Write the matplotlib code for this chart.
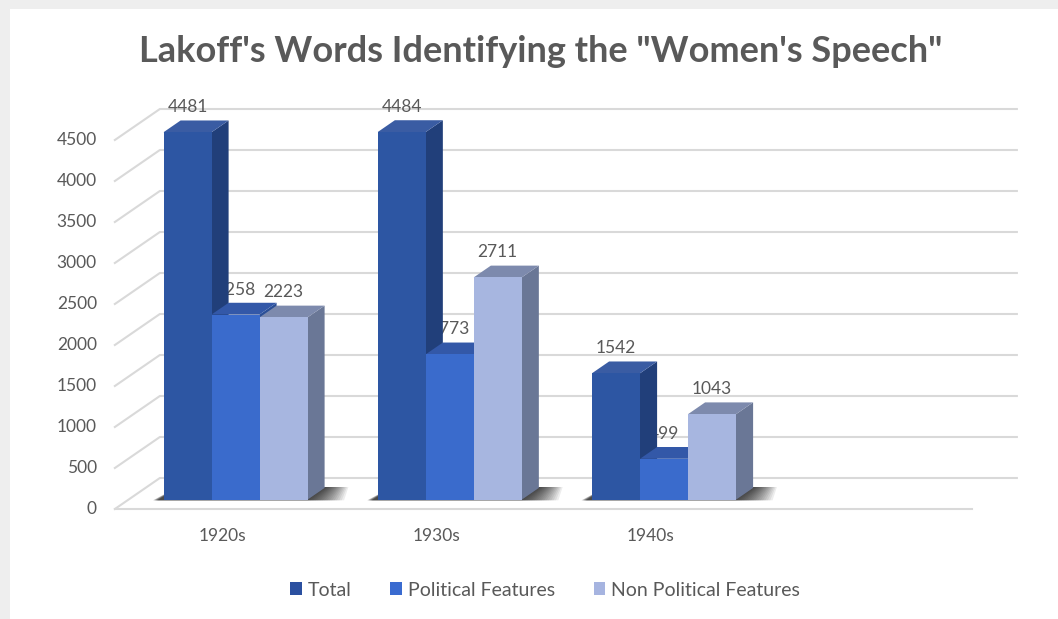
import matplotlib
matplotlib.use('Agg')
import matplotlib.pyplot as plt
from matplotlib.patches import Polygon, Rectangle, Patch

# data
decades = ['1920s', '1930s', '1940s']
series = ['Total', 'Political Features', 'Non Political Features']
total = [4481, 4484, 1542]
political = [2258, 1773, 499]
non_political = [2223, 2711, 1043]
y_ticks = list(range(0, 5000, 500))

front_colors = ['#2d56a3', '#3a6bcc', '#a7b6e0']
top_colors = ['#3a5ca3', '#3358a8', '#7d8aad']
side_colors = ['#213f7a', '#2b4f96', '#6a7796']
legend_colors = ['#2b50a0', '#3a6bd0', '#a6b4e0']
text_color = '#595959'
grid_color = '#d9d9d9'

plt.rcParams['font.family'] = ['Lato', 'DejaVu Sans']

W, H = 1058, 619
fig = plt.figure(figsize=(W / 100, H / 100), dpi=100)
fig.patch.set_facecolor('#eeeeee')
fig.patches.append(Rectangle((10 / W, 0), 1, 1 - 9 / H, transform=fig.transFigure,
                             facecolor='white', edgecolor='none', zorder=-5))

# layout of the fake 3D box, in pixels
slot_px = 214.25          # width of one category slot
val_px = 0.082            # pixels per unit of value
x0_px, y0_px = 222, 509   # front centre of the first slot at value 0
depth_dx, depth_dy = 45, 31   # shift from the front of the floor to the back wall

ax_l, ax_r, ax_t, ax_b = 60, 1040, 80, 560
ax = fig.add_axes([ax_l / W, 1 - ax_b / H, (ax_r - ax_l) / W, (ax_b - ax_t) / H])
ax.set_xlim((ax_l - x0_px) / slot_px, (ax_r - x0_px) / slot_px)
ax.set_ylim((y0_px - ax_b) / val_px, (y0_px - ax_t) / val_px)
ax.axis('off')
ax.set_zorder(2)

ddx = depth_dx / slot_px
ddv = depth_dy / val_px


def proj(x, d, v):
    '''Oblique projection: d is depth from 0 (front) to 1 (back wall).'''
    return (x + d * ddx, v + d * ddv)


n_slots = len(decades) + 1
x_left, x_right = -0.5, n_slots - 0.5

# walls and gridlines
for v in y_ticks:
    pts = [proj(x_left, 0, v), proj(x_left, 1, v), proj(x_right, 1, v)]
    ax.plot([p[0] for p in pts], [p[1] for p in pts], color=grid_color, lw=1.5, zorder=1)
    ax.text(x_left - 18 / slot_px, v, str(v), ha='right', va='center',
            fontsize=12.5, color=text_color)
a, b = proj(x_left, 0, 0), proj(x_right, 0, 0)
ax.plot([a[0], b[0]], [a[1], b[1]], color=grid_color, lw=1.5, zorder=1)

for i, dec in enumerate(decades):
    ax.text(i, -27 / val_px, dec, ha='center', va='center', fontsize=12.5, color=text_color)

# bars
bar_w = 48 / slot_px
d0, d1 = 0.3, 0.68
values = [total, political, non_political]
k = 0
for i in range(len(decades)):
    g_left = i - 1.5 * bar_w
    g_right = i + 1.5 * bar_w
    # soft shadow on the floor, fading to the right
    for n in range(16):
        s = 0.01 + n * 0.011
        shadow = [proj(g_left - 0.02 - s * 0.15, d0 - 0.02, 0), proj(g_right + s, d0 - 0.02, 0),
                  proj(g_right + s * 0.6, d1 + 0.03, 0), proj(g_left - 0.02, d1 + 0.03, 0)]
        ax.add_patch(Polygon(shadow, closed=True, facecolor='black', edgecolor='none',
                             alpha=0.07, zorder=2))
    for j in range(len(series)):
        v = values[j][i]
        xl = g_left + j * bar_w
        xr = xl + bar_w
        z = 3 + k * 0.01
        k += 1
        side = [proj(xr, d0, 0), proj(xr, d1, 0), proj(xr, d1, v), proj(xr, d0, v)]
        top = [proj(xl, d0, v), proj(xr, d0, v), proj(xr, d1, v), proj(xl, d1, v)]
        front = [proj(xl, d0, 0), proj(xr, d0, 0), proj(xr, d0, v), proj(xl, d0, v)]
        ax.add_patch(Polygon(side, closed=True, facecolor=side_colors[j], edgecolor='none', zorder=z))
        ax.add_patch(Polygon(top, closed=True, facecolor=top_colors[j], edgecolor='none', zorder=z))
        ax.add_patch(Polygon(front, closed=True, facecolor=front_colors[j], edgecolor='none', zorder=z))
        ax.annotate(str(v), xy=proj(xl + bar_w / 2, d0, v), xytext=(0, 18),
                    textcoords='offset points', ha='center', va='center',
                    fontsize=12.5, color=text_color, zorder=2.5)

fig.text(541 / W, 1 - 52 / H, 'Lakoff\'s Words Identifying the "Women\'s Speech"',
         ha='center', va='center', fontsize=26, fontweight='bold', color=text_color)

handles = [Patch(facecolor=c, edgecolor='none') for c in legend_colors]
fig.legend(handles, series, loc='center', bbox_to_anchor=(545 / W, 1 - 590 / H), ncol=3,
           frameon=False, fontsize=14, labelcolor=text_color, handlelength=0.6,
           handleheight=0.6, handletextpad=0.3, columnspacing=2.0)

fig.savefig('out.png', dpi=100)
